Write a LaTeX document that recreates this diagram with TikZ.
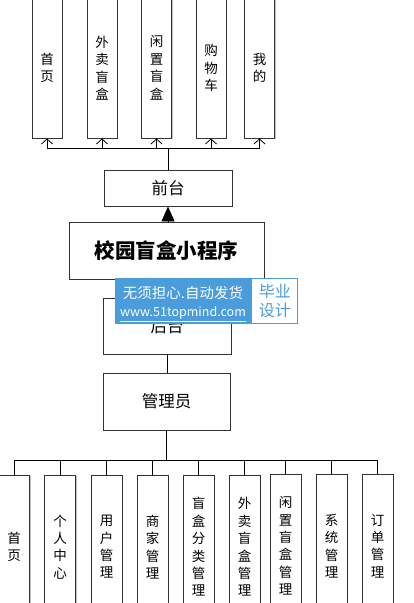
\documentclass[tikz,border=0pt]{standalone}
\usepackage{fontspec}
\setmainfont{Noto Sans CJK SC}
\usetikzlibrary{arrows.meta,shadows}
\definecolor{wmblue}{HTML}{4A9CDB}
\begin{document}
\begin{tikzpicture}[x=1pt,y=-1pt,
  box/.style={draw=black!80, line width=0.9pt, fill=white, inner sep=0pt, align=center,
    drop shadow={shadow xshift=1.2pt, shadow yshift=-1.2pt, opacity=0.25, fill=black}},
  vbox/.style={box, minimum width=30pt, minimum height=140pt, font=\fontsize{13.5}{17.5}\selectfont},
  bbox/.style={box, minimum width=31pt, minimum height=144pt, font=\fontsize{13.5}{17.4}\selectfont},
  hbox/.style={box, minimum width=128pt, font=\fontsize{16.5}{20}\selectfont},
  conn/.style={draw=black, line width=0.9pt},
  upar/.style={conn, -{Straight Barb[length=5pt,width=11pt,line width=0.8pt]}}
]
\useasboundingbox (0,0) rectangle (414,603);
% top row
\node[vbox] (t1) at (47,68) {首\\页};
\node[vbox] (t2) at (102,68) {外\\卖\\盲\\盒};
\node[vbox] (t3) at (156.5,68) {闲\\置\\盲\\盒};
\node[vbox] (t4) at (211,68) {购\\物\\车};
\node[vbox] (t5) at (259.5,68) {我\\的};
% front / main / back / admin
\node[hbox, minimum height=36pt] (qt) at (168,188) {前台};
\node[box, minimum width=195pt, minimum height=57pt, font=\fontsize{20.5}{24}\selectfont\bfseries] (xy) at (166.5,250.5) {校园盲盒小程序};
\node[hbox, minimum height=56pt] (ht) at (167,326) {后台};
\node[hbox, minimum width=127pt, minimum height=57pt] (gl) at (166.5,401.5) {管理员};
% bottom row
\node[bbox] (b1) at (14,547) {首\\页};
\node[bbox] (b2) at (60,547) {个\\人\\中\\心};
\node[bbox] (b3) at (106.5,547) {用\\户\\管\\理};
\node[bbox] (b4) at (152.5,547) {商\\家\\管\\理};
\node[bbox] (b5) at (198.5,547) {盲\\盒\\分\\类\\管\\理};
\node[bbox] (b6) at (244.5,547) {外\\卖\\盲\\盒\\管\\理};
\node[bbox] (b7) at (285.5,546) {闲\\置\\盲\\盒\\管\\理};
\node[bbox] (b8) at (331.5,546) {系\\统\\管\\理};
\node[bbox] (b9) at (377.5,546) {订\\单\\管\\理};
% top connectors
\coordinate (tb) at (168,148);
\draw[conn] (qt.north) -- (tb);
\draw[conn] (t1.south |- tb) -- (t5.south |- tb);
\foreach \n in {t1,t2,t3,t4,t5} \draw[upar] (\n.south |- tb) -- (\n.south);
\draw[conn, -{Triangle[length=15pt,width=13pt]}] (xy.north -| qt.south) -- (qt.south);
% back connectors
\draw[conn] (ht.south) -- (gl.north -| ht.south);
\coordinate (bb) at (166.5,460);
\draw[conn] (gl.south) -- (bb);
\draw[conn] (b1.north |- bb) -- (b9.north |- bb);
\foreach \n in {b1,b2,b3,b4,b5,b6,b7,b8,b9} \draw[conn] (\n.north |- bb) -- (\n.north);
% watermark
\node[fill=wmblue, minimum width=136pt, minimum height=46pt, inner sep=0pt] (wm) at (183,301) {};
\node[draw=wmblue, line width=1.2pt, fill=white, minimum width=46pt, minimum height=45pt, inner sep=0pt, anchor=west] (wm2) at (wm.east) {};
\node[text=white, font=\fontsize{14.5}{16}\selectfont, inner sep=0pt] (wmt1) at (183,293) {无须担心.自动发货};
\node[text=white, font=\fontsize{12.5}{14}\selectfont, inner sep=0pt] (wmt2) at (183,314) {\underline{www.51topmind.com}};
\node[text=wmblue, font=\fontsize{16}{19}\selectfont, align=center, inner sep=0pt] (wmt3) at (wm2.center) {毕业\\设计};
\end{tikzpicture}
\end{document}
